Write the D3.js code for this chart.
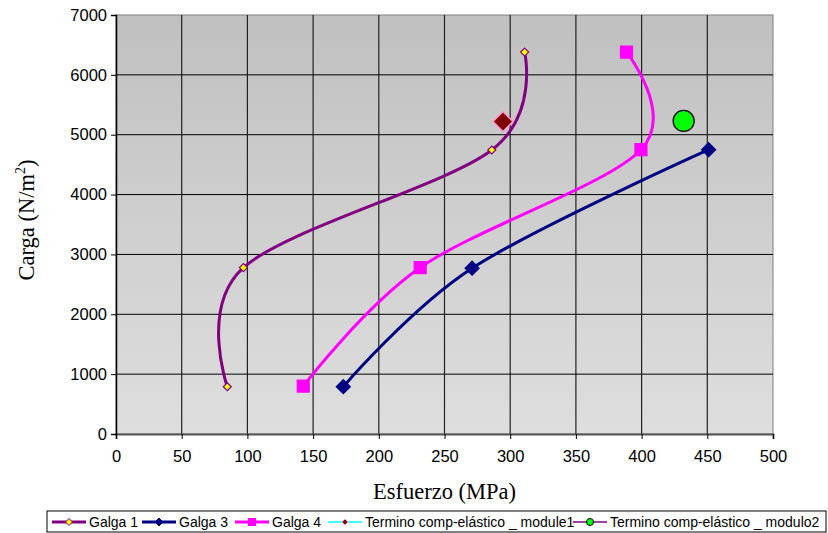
<!DOCTYPE html>
<html>
<head>
<meta charset="utf-8">
<script src="https://cdn.jsdelivr.net/npm/d3@7"></script>
<style>
  body { margin: 0; background: #fff; }
  svg { display: block; }
</style>
</head>
<body>
<div id="chart"></div>
<script>
const w = 828;
const h = 533;

// data
const galga1X = [84.7, 97, 286, 311];
const galga1Y = [790, 2780, 4745, 6380];
const galga3X = [173, 271, 451];
const galga3Y = [790, 2770, 4750];
const galga4X = [142.5, 231.5, 399.5, 388.5];
const galga4Y = [800, 2780, 4750, 6380];
const termino1X = [294.5];
const termino1Y = [5220];
const termino2X = [432];
const termino2Y = [5230];
const xTicks = [0, 50, 100, 150, 200, 250, 300, 350, 400, 450, 500];
const yTicks = [0, 1000, 2000, 3000, 4000, 5000, 6000, 7000];
const legendNames = ["Galga 1", "Galga 3", "Galga 4",
  "Termino comp-elástico _ module1", "Termino comp-elástico _ modulo2"];

const plotL = 116, plotR = 773, plotT = 15, plotB = 434;

const svg = d3.select("#chart").append("svg").attr("width", w).attr("height", h);

const xScale = d3.scaleLinear().domain([0, 500]).range([plotL, plotR]);
const yScale = d3.scaleLinear().domain([0, 7000]).range([plotB, plotT]);

const defs = svg.append("defs");
const grad = defs.append("linearGradient")
  .attr("id", "bg").attr("x1", 0).attr("y1", 0).attr("x2", 0).attr("y2", 1);
grad.append("stop").attr("offset", "0%").attr("stop-color", "#c0c0c0");
grad.append("stop").attr("offset", "100%").attr("stop-color", "#dedede");

svg.append("rect")
  .attr("x", plotL).attr("y", plotT)
  .attr("width", plotR - plotL).attr("height", plotB - plotT)
  .attr("fill", "url(#bg)")
  .attr("stroke", "#808080").attr("stroke-width", 1);

// grid
svg.append("g").selectAll("line").data(xTicks.slice(1, -1)).enter().append("line")
  .attr("x1", (d) => xScale(d)).attr("x2", (d) => xScale(d))
  .attr("y1", plotT).attr("y2", plotB)
  .attr("stroke", "#222").attr("stroke-width", 1.2);
svg.append("g").selectAll("line").data(yTicks.slice(1, -1)).enter().append("line")
  .attr("y1", (d) => yScale(d)).attr("y2", (d) => yScale(d))
  .attr("x1", plotL).attr("x2", plotR)
  .attr("stroke", "#000").attr("stroke-width", 1);

// axes
const xAxis = d3.axisBottom(xScale).tickValues(xTicks).tickFormat(d3.format("d")).tickSize(5).tickPadding(11);
const yAxis = d3.axisLeft(yScale).tickValues(yTicks).tickFormat(d3.format("d")).tickSize(5).tickPadding(4);
const gx = svg.append("g").attr("transform", "translate(0," + plotB + ")").call(xAxis);
const gy = svg.append("g").attr("transform", "translate(" + plotL + ",0)").call(yAxis);
gx.select(".domain").attr("stroke", "#555").attr("stroke-width", 2);
gy.select(".domain").attr("stroke", "#000").attr("stroke-width", 1.5);
[gx, gy].forEach((g) => {
  g.selectAll("text")
    .attr("font-family", "Liberation Sans, Arial, sans-serif")
    .attr("font-size", 16.5).attr("fill", "#000");
  g.selectAll(".tick line").attr("stroke", "#000");
});

// titles
svg.append("text")
  .attr("x", (plotL + plotR) / 2).attr("y", 499)
  .attr("text-anchor", "middle")
  .attr("font-family", "Liberation Serif, Times New Roman, serif")
  .attr("font-size", 22.5)
  .text("Esfuerzo (MPa)");
const yt = svg.append("text")
  .attr("transform", "translate(34,220) rotate(-90)")
  .attr("text-anchor", "middle")
  .attr("font-family", "Liberation Serif, Times New Roman, serif")
  .attr("font-size", 22.5);
yt.append("tspan").text("Carga (N/m");
yt.append("tspan").attr("font-size", 14).attr("dy", -9).text("2");
yt.append("tspan").attr("dy", 9).text(")");

const line = d3.line()
  .x((d) => xScale(d[0]))
  .y((d) => yScale(d[1]))
  .curve(d3.curveCardinal.tension(0));

function zipXY(xs, ys) {
  return xs.map((x, i) => [x, ys[i]]);
}

const series = [
  { pts: zipXY(galga1X, galga1Y), color: "#800080", marker: "diamond", size: 4, fill: "#ffff00", stroke: "#800080" },
  { pts: zipXY(galga3X, galga3Y), color: "#000080", marker: "diamond", size: 7, fill: "#000080", stroke: "#000080" },
  { pts: zipXY(galga4X, galga4Y), color: "#ff00ff", marker: "square", size: 6, fill: "#ff00ff", stroke: "#ff00ff" },
];

function drawMarker(g, type, cx, cy, s, fill, stroke, sw) {
  if (type === "diamond") {
    g.append("path")
      .attr("d", "M" + cx + "," + (cy - s) + "L" + (cx + s) + "," + cy + "L" + cx + "," + (cy + s) + "L" + (cx - s) + "," + cy + "Z")
      .attr("fill", fill).attr("stroke", stroke).attr("stroke-width", sw);
  } else if (type === "square") {
    g.append("rect")
      .attr("x", cx - s).attr("y", cy - s).attr("width", 2 * s).attr("height", 2 * s)
      .attr("fill", fill).attr("stroke", stroke).attr("stroke-width", sw);
  } else {
    g.append("circle").attr("cx", cx).attr("cy", cy).attr("r", s)
      .attr("fill", fill).attr("stroke", stroke).attr("stroke-width", sw);
  }
}

const marks = svg.append("g");
series.forEach((s) => {
  marks.append("path")
    .attr("d", line(s.pts))
    .attr("fill", "none")
    .attr("stroke", s.color)
    .attr("stroke-width", 3);
});
series.forEach((s) => {
  s.pts.forEach((p) => {
    drawMarker(marks, s.marker, xScale(p[0]), yScale(p[1]), s.size, s.fill, s.stroke, 1.2);
  });
});
zipXY(termino1X, termino1Y).forEach((p) => {
  drawMarker(marks, "diamond", xScale(p[0]), yScale(p[1]), 10, "#800000", "#ff99cc", 1.5);
});
zipXY(termino2X, termino2Y).forEach((p) => {
  drawMarker(marks, "circle", xScale(p[0]), yScale(p[1]), 10.5, "#00ff00", "#000", 1.3);
});

// legend
const lg = svg.append("g");
lg.append("rect")
  .attr("x", 47).attr("y", 511).attr("width", 779).attr("height", 21)
  .attr("fill", "#fff").attr("stroke", "#000").attr("stroke-width", 1);
const legendItems = [
  { x: 52, color: "#800080", marker: "diamond", size: 3.5, fill: "#ffff00", stroke: "#800080" },
  { x: 142, color: "#000080", marker: "diamond", size: 4, fill: "#000080", stroke: "#000080" },
  { x: 235, color: "#ff00ff", marker: "square", size: 3.5, fill: "#ff00ff", stroke: "#ff00ff" },
  { x: 328, color: "#00ffff", marker: "diamond", size: 3, fill: "#800000", stroke: "#ff99cc" },
  { x: 573, color: "#800080", marker: "circle", size: 3.5, fill: "#00ff00", stroke: "#000" },
];
const ly = 522;
legendItems.forEach((it, i) => {
  lg.append("line")
    .attr("x1", it.x).attr("x2", it.x + 34)
    .attr("y1", ly).attr("y2", ly)
    .attr("stroke", it.color).attr("stroke-width", i === 3 || i === 4 ? 1.5 : 3);
  drawMarker(lg, it.marker, it.x + 17, ly, it.size, it.fill, it.stroke, 1);
  lg.append("text")
    .attr("x", it.x + 37).attr("y", ly + 5)
    .attr("font-family", "Liberation Sans, Arial, sans-serif")
    .attr("font-size", 14)
    .text(legendNames[i]);
});
</script>
</body>
</html>
